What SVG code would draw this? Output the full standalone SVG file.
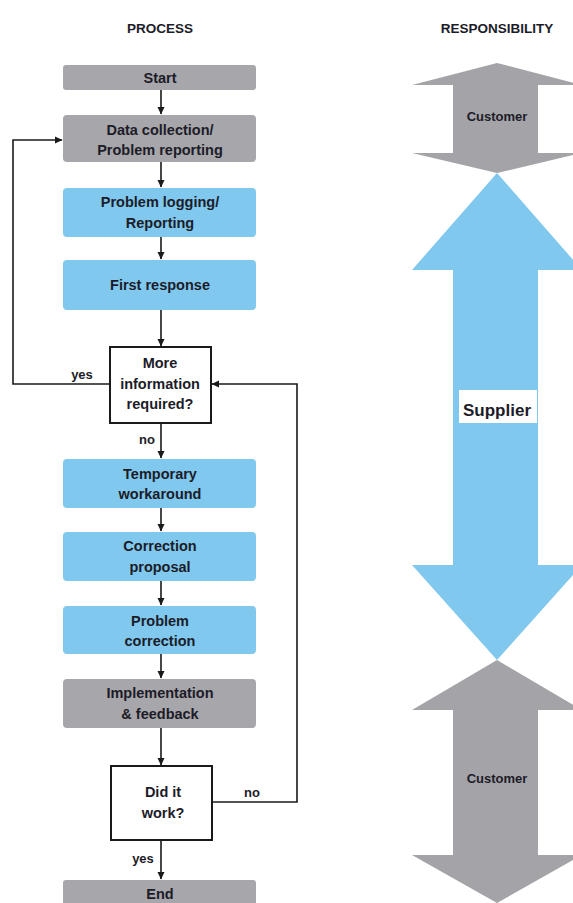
<svg xmlns="http://www.w3.org/2000/svg" width="573" height="903" viewBox="0 0 573 903">
<style>
text{font-family:"Liberation Sans",Arial,sans-serif;font-weight:bold;fill:#1c1c28;text-anchor:middle}
.t{font-size:14.5px}
.h{font-size:13.5px}
.l{font-size:13px}
.gray{fill:#a7a6aa}
.blue{fill:#80c8ee}
.dec{fill:#fff;stroke:#1a1a1a;stroke-width:2}
.c{fill:none;stroke:#1a1a1a;stroke-width:1.6}
.ga{fill:#a4a3a7}
.ba{fill:#80c8ee}
</style>
<defs>
<marker id="ah" markerWidth="8" markerHeight="8" refX="7" refY="4" orient="auto" markerUnits="userSpaceOnUse">
<path d="M0,0.5 L7.5,4 L0,7.5 Z" fill="#1a1a1a"/>
</marker>
</defs>
<text class="h" x="160" y="33">PROCESS</text>
<text class="h" x="497" y="33">RESPONSIBILITY</text>

<g id="connectors">
<line class="c" x1="161" y1="90" x2="161" y2="114" marker-end="url(#ah)"/>
<line class="c" x1="161" y1="162" x2="161" y2="187" marker-end="url(#ah)"/>
<line class="c" x1="161" y1="237" x2="161" y2="259" marker-end="url(#ah)"/>
<line class="c" x1="161" y1="310" x2="161" y2="346" marker-end="url(#ah)"/>
<line class="c" x1="161" y1="423" x2="161" y2="458" marker-end="url(#ah)"/>
<line class="c" x1="161" y1="508" x2="161" y2="531" marker-end="url(#ah)"/>
<line class="c" x1="161" y1="581" x2="161" y2="605" marker-end="url(#ah)"/>
<line class="c" x1="161" y1="654" x2="161" y2="678" marker-end="url(#ah)"/>
<line class="c" x1="161" y1="728" x2="161" y2="765" marker-end="url(#ah)"/>
<line class="c" x1="161" y1="840" x2="161" y2="879" marker-end="url(#ah)"/>
<polyline class="c" points="110,384 13,384 13,140 62,140" marker-end="url(#ah)"/>
<polyline class="c" points="212,802 297,802 297,384 212,384" marker-end="url(#ah)"/>
<text class="l" x="82" y="379">yes</text>
<text class="l" x="147" y="444">no</text>
<text class="l" x="252" y="797">no</text>
<text class="l" x="143" y="863">yes</text>
</g>

<g id="start"><rect class="gray" x="63" y="65" width="193" height="25" rx="3"/><text class="t" x="160" y="83">Start</text></g>
<g id="data"><rect class="gray" x="63" y="115" width="193" height="47" rx="4"/><text class="t" x="160" y="135">Data collection/</text><text class="t" x="160" y="155">Problem reporting</text></g>
<g id="logging"><rect class="blue" x="63" y="188" width="193" height="49" rx="4"/><text class="t" x="160" y="207">Problem logging/</text><text class="t" x="160" y="228">Reporting</text></g>
<g id="first"><rect class="blue" x="63" y="260" width="193" height="50" rx="4"/><text class="t" x="160" y="290">First response</text></g>
<g id="more"><rect class="dec" x="110" y="347" width="101" height="76"/><text class="t" x="160" y="368">More</text><text class="t" x="160" y="389">information</text><text class="t" x="160" y="409">required?</text></g>
<g id="temp"><rect class="blue" x="63" y="459" width="193" height="49" rx="4"/><text class="t" x="160" y="479">Temporary</text><text class="t" x="160" y="499">workaround</text></g>
<g id="corr"><rect class="blue" x="63" y="532" width="193" height="49" rx="4"/><text class="t" x="160" y="551">Correction</text><text class="t" x="160" y="572">proposal</text></g>
<g id="probcorr"><rect class="blue" x="63" y="606" width="193" height="48" rx="4"/><text class="t" x="160" y="626">Problem</text><text class="t" x="160" y="646">correction</text></g>
<g id="impl"><rect class="gray" x="63" y="679" width="193" height="49" rx="4"/><text class="t" x="160" y="698">Implementation</text><text class="t" x="160" y="719">&amp; feedback</text></g>
<g id="did"><rect class="dec" x="111" y="766" width="101" height="74"/><text class="t" x="163" y="797">Did it</text><text class="t" x="163" y="818">work?</text></g>
<g id="end"><rect class="gray" x="63" y="880" width="193" height="26" rx="3"/><text class="t" x="160" y="899">End</text></g>

<g id="customer-top"><polygon class="ga" points="497,63 582,85 538,85 538,153 582,153 497,173 412,153 453,153 453,85 412,85"/><text class="l" x="497" y="121">Customer</text></g>
<g id="supplier"><polygon class="ba" points="497,173 582,270 538,270 538,565 582,565 497,660 412,565 453,565 453,270 412,270"/><rect x="459" y="390" width="78" height="33" fill="#fff"/><text x="497" y="416" style="font-size:17px">Supplier</text></g>
<g id="customer-bottom"><polygon class="ga" points="497,660 582,710 538,710 538,855 582,855 497,903 412,855 453,855 453,710 412,710"/><text class="l" x="497" y="783">Customer</text></g>
</svg>
